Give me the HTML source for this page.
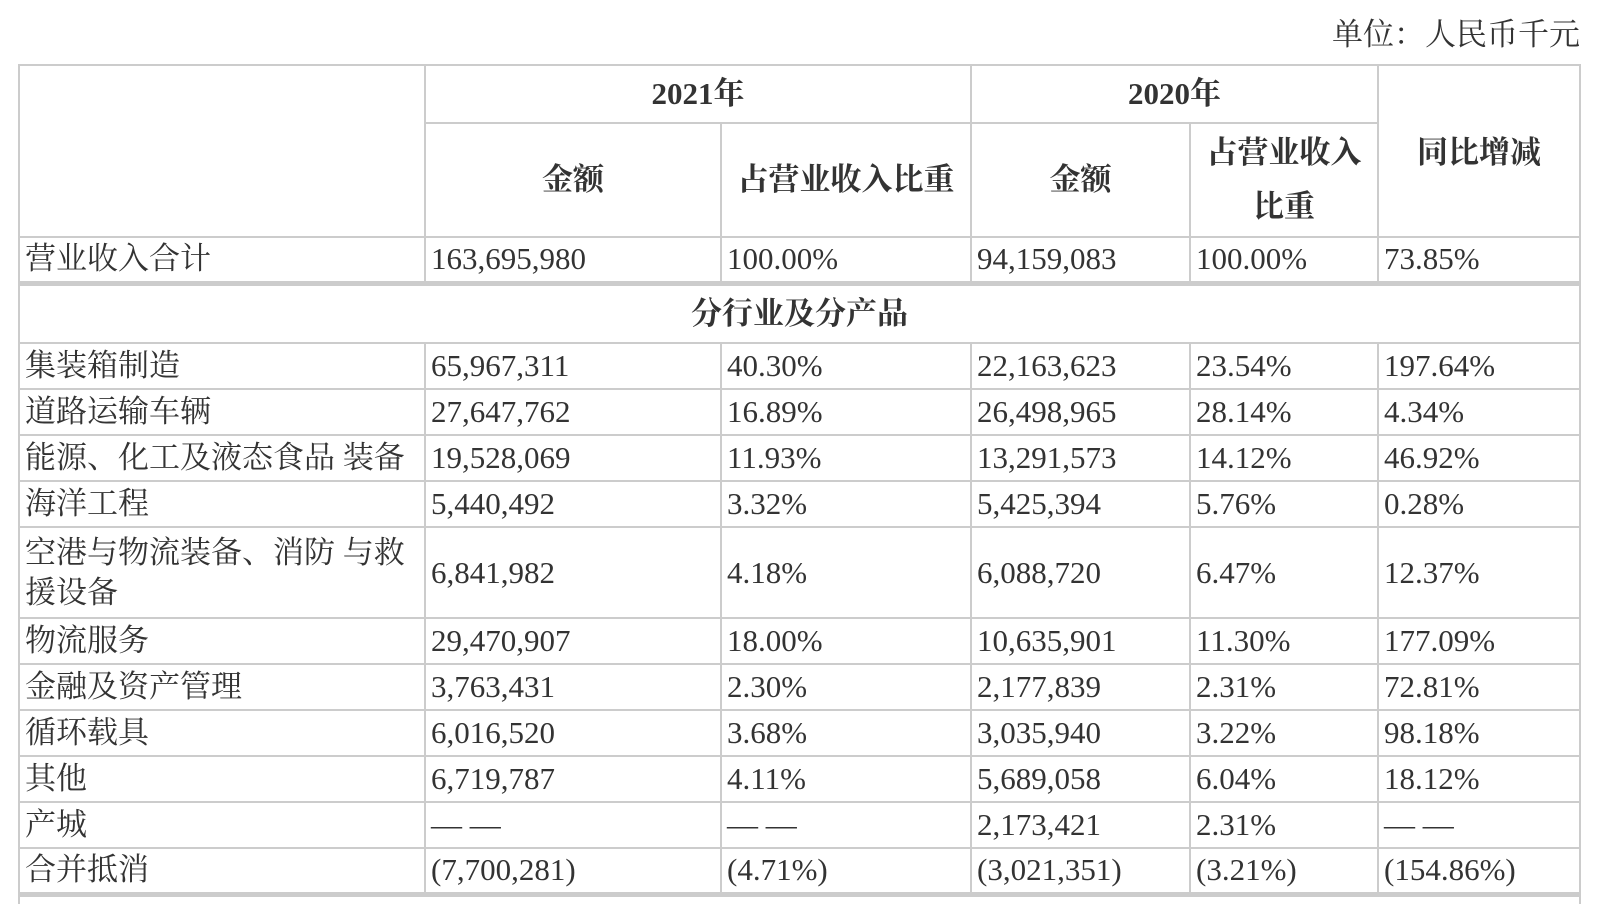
<!DOCTYPE html>
<html><head><meta charset="utf-8"><style>
html,body{margin:0;padding:0;background:#fff;width:1612px;height:904px;overflow:hidden}
body{font-family:"Liberation Serif","Noto Serif CJK SC","Noto Sans CJK SC",serif;color:#333;position:relative}
.unit{position:absolute;right:32px;top:15px;font-size:31px;line-height:40px}
table{position:absolute;left:18px;top:64px;border-collapse:collapse;table-layout:fixed;width:1561px}
td{border:2px solid #ccc;padding:0 5px;font-size:31px;line-height:40px;white-space:nowrap;overflow:hidden;vertical-align:middle}
th{border:2px solid #ccc;font-size:31px;font-weight:bold;line-height:54px;text-align:center;padding:0}
.thick td{border-top:5px solid #ccc}
.c{text-align:center}
</style></head><body>
<div class="unit">单位：人民币千元</div>
<table>
<colgroup><col style="width:406px"><col style="width:296px"><col style="width:250px"><col style="width:219px"><col style="width:188px"><col style="width:202px"></colgroup>
<tr style="height:58px"><th rowspan="2"></th><th colspan="2">2021年</th><th colspan="2">2020年</th><th rowspan="2" style="vertical-align:top;padding-top:60px">同比增减</th></tr>
<tr style="height:114px"><th>金额</th><th>占营业收入比重</th><th>金额</th><th>占营业收入<br>比重</th></tr>
<tr style="height:46px"><td>营业收入合计</td><td>163,695,980</td><td>100.00%</td><td>94,159,083</td><td>100.00%</td><td>73.85%</td></tr>
<tr class="thick" style="height:60px"><td colspan="6" class="c" style="font-weight:bold">分行业及分产品</td></tr>
<tr style="height:46px"><td>集装箱制造</td><td>65,967,311</td><td>40.30%</td><td>22,163,623</td><td>23.54%</td><td>197.64%</td></tr>
<tr style="height:46px"><td>道路运输车辆</td><td>27,647,762</td><td>16.89%</td><td>26,498,965</td><td>28.14%</td><td>4.34%</td></tr>
<tr style="height:46px"><td>能源、化工及液态食品 装备</td><td>19,528,069</td><td>11.93%</td><td>13,291,573</td><td>14.12%</td><td>46.92%</td></tr>
<tr style="height:46px"><td>海洋工程</td><td>5,440,492</td><td>3.32%</td><td>5,425,394</td><td>5.76%</td><td>0.28%</td></tr>
<tr style="height:91px"><td style="white-space:normal">空港与物流装备、消防 与救援设备</td><td>6,841,982</td><td>4.18%</td><td>6,088,720</td><td>6.47%</td><td>12.37%</td></tr>
<tr style="height:46px"><td>物流服务</td><td>29,470,907</td><td>18.00%</td><td>10,635,901</td><td>11.30%</td><td>177.09%</td></tr>
<tr style="height:46px"><td>金融及资产管理</td><td>3,763,431</td><td>2.30%</td><td>2,177,839</td><td>2.31%</td><td>72.81%</td></tr>
<tr style="height:46px"><td>循环载具</td><td>6,016,520</td><td>3.68%</td><td>3,035,940</td><td>3.22%</td><td>98.18%</td></tr>
<tr style="height:46px"><td>其他</td><td>6,719,787</td><td>4.11%</td><td>5,689,058</td><td>6.04%</td><td>18.12%</td></tr>
<tr style="height:46px"><td>产城</td><td>— —</td><td>— —</td><td>2,173,421</td><td>2.31%</td><td>— —</td></tr>
<tr style="height:46px"><td>合并抵消</td><td>(7,700,281)</td><td>(4.71%)</td><td>(3,021,351)</td><td>(3.21%)</td><td>(154.86%)</td></tr>
<tr class="thick" style="height:40px"><td colspan="6"></td></tr>
</table>
</body></html>
